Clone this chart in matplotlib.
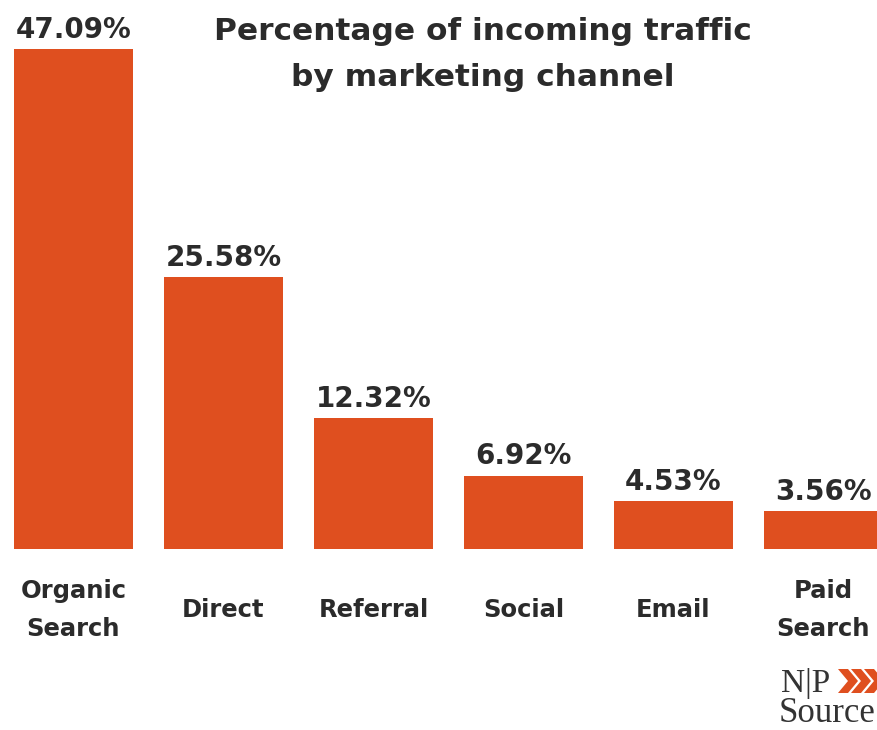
import matplotlib
matplotlib.use("Agg")
from matplotlib import pyplot as plt
from matplotlib.patches import Polygon

channels = ["Organic\nSearch", "Direct", "Referral", "Social", "Email", "Paid\nSearch"]
shares = [47.09, 25.58, 12.32, 6.92, 4.53, 3.56]
labels = ["47.09%", "25.58%", "12.32%", "6.92%", "4.53%", "3.56%"]
title_lines = ["Percentage of incoming traffic", "by marketing channel"]

W, H = 878, 730
bar_color = "#DF4F1F"
text_color = "#2B2B2B"

fig = plt.figure(figsize=(W / 100, H / 100), dpi=100)
fig.patch.set_facecolor("white")

# axes: baseline at y=549px from top, full width
base = 549
ax = fig.add_axes([0, (H - base) / H, 1, base / H])
px_per_unit = 500 / 47.09
ax.set_ylim(0, base / px_per_unit)
ax.set_xlim(-73.5 / 150, (W - 73.5) / 150)
ax.axis("off")

x = range(len(shares))
ax.bar(x, shares, width=0.795, color=bar_color)

for i, (v, lab) in enumerate(zip(shares, labels)):
    ax.annotate(lab, (i, v), xytext=(0, 8), textcoords="offset points",
                ha="center", va="baseline", fontsize=20, fontweight="bold",
                color=text_color)

for i, name in enumerate(channels):
    ax.text(i, -61 / base, name, transform=ax.get_xaxis_transform(),
            ha="center", va="center", fontsize=17.5, fontweight="bold",
            color=text_color, linespacing=1.75)

# title, two lines
for line, yb in zip(title_lines, [40, 86]):
    fig.text(483 / W, 1 - yb / H, line, ha="center", va="baseline",
             fontsize=22.5, fontweight="bold", color=text_color)

# logo
fig.text(781 / W, 1 - 692 / H, "N|P", ha="left", va="baseline", fontsize=24,
         family="Liberation Serif", color="#333333")
fig.text(779 / W, 1 - 722 / H, "Source", ha="left", va="baseline", fontsize=25,
         family="Liberation Serif", color="#333333")
for k in range(3):
    x0 = 838 + k * 13
    pts = [(x0, 669), (x0 + 10, 669), (x0 + 20, 681), (x0 + 10, 693), (x0, 693), (x0 + 10, 681)]
    pts = [(px / W, 1 - py / H) for px, py in pts]
    fig.patches.append(Polygon(pts, closed=True, transform=fig.transFigure,
                               facecolor=bar_color, edgecolor="none"))

fig.savefig("out.png", dpi=100, facecolor="white")
